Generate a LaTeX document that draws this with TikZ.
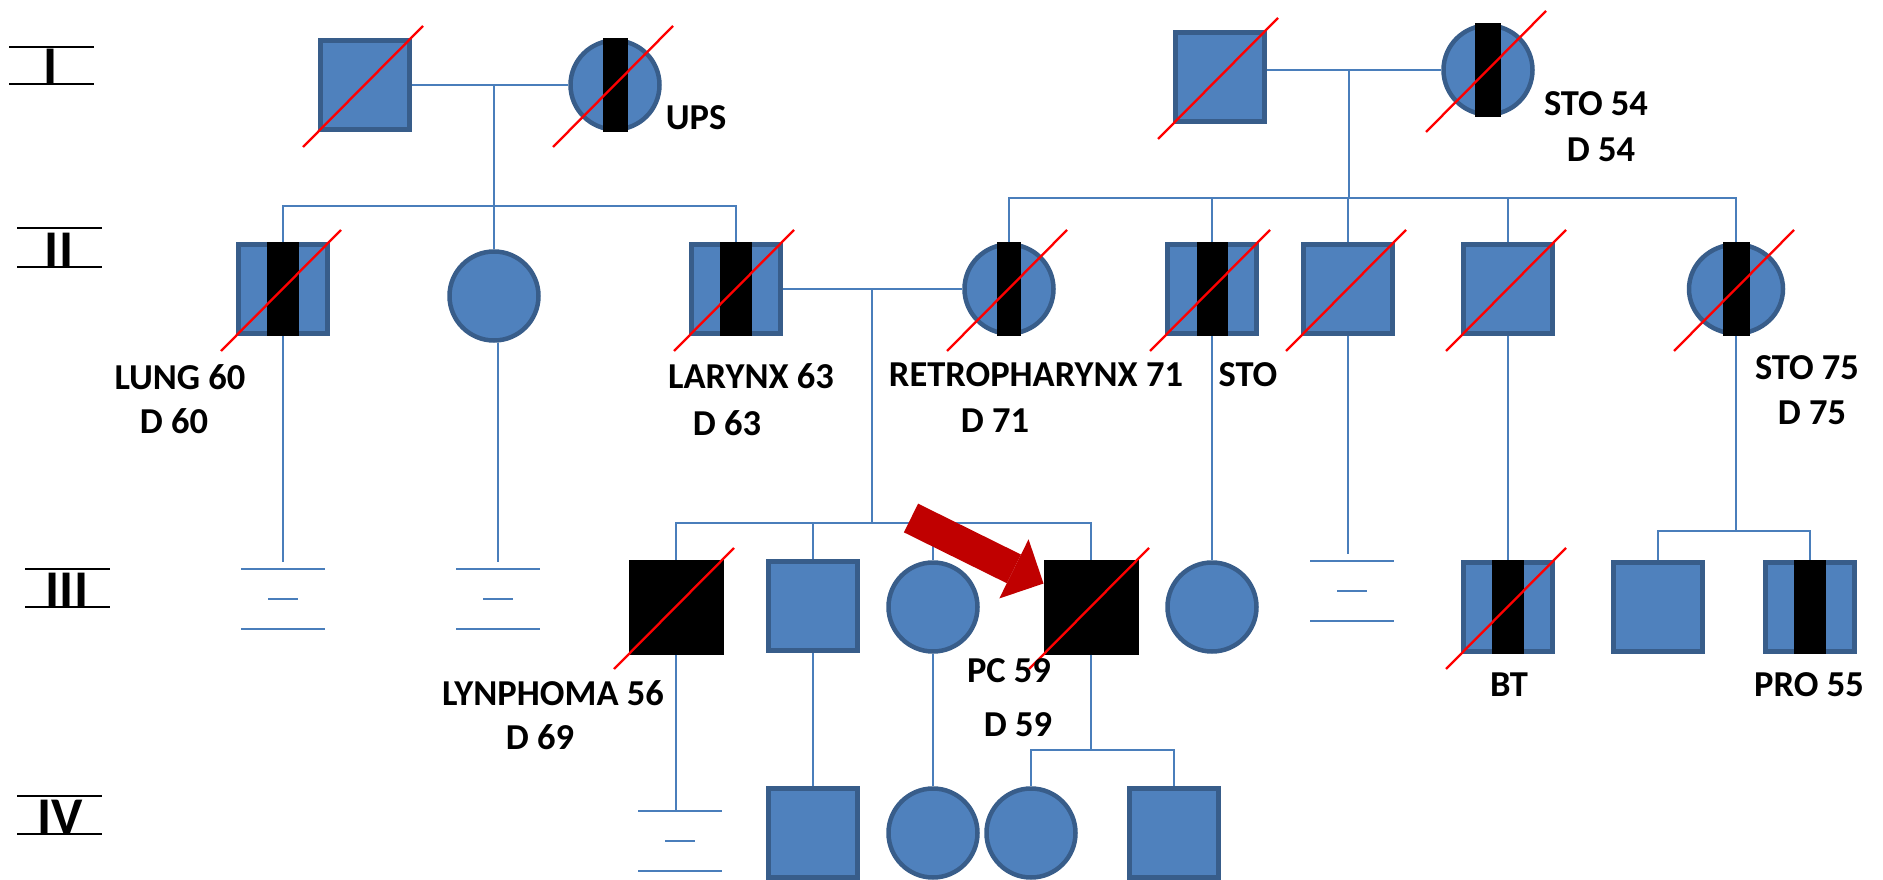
\documentclass[tikz,border=0pt]{standalone}
\usepackage{fontspec}
\setmainfont{Carlito}
\usetikzlibrary{arrows.meta,positioning,shapes.geometric}
\definecolor{pedblue}{HTML}{4F81BD}
\definecolor{pededge}{HTML}{385D8A}
\definecolor{linkblue}{HTML}{4A7EBB}
\definecolor{pointred}{HTML}{C00000}

\begin{document}
\begin{tikzpicture}[
x=1pt,y=-1pt,
every node/.style={font=\fontsize{36.5}{40}\selectfont\bfseries,align=center,inner sep=0pt},
male/.style={rectangle,draw=pededge,fill=pedblue,line width=4.5pt,minimum size=89pt},
female/.style={ellipse,draw=pededge,fill=pedblue,line width=4.5pt,minimum width=89pt,minimum height=89pt},
affected/.style={draw=black,fill=black,line width=1pt,minimum size=94pt},
link/.style={draw=linkblue,line width=2.2pt},
slash/.style={draw=red,line width=2.3pt},
genbar/.style={draw=black,line width=2.5pt},
gen/.style={font=\fontsize{53}{60}\selectfont\bfseries},
pointer/.style={-{Triangle[length=33pt,width=66pt,line width=0pt]},line width=32pt,draw=pointred}
]
\useasboundingbox (0,0) rectangle (1883,880);

% generations
\node[gen,anchor=base] (g1) at (51,84) {I};
\node[gen,anchor=base] (g2) at (59,267) {II};
\node[gen,anchor=base] (g3) at (67,607) {III};
\node[gen,anchor=base] (g4) at (60,834) {IV};
\draw[genbar] (9,47) -- (94,47) (9,84) -- (94,84);
\draw[genbar] (17,228) -- (102,228) (17,267) -- (102,267);
\draw[genbar] (25,569) -- (110,569) (25,607) -- (110,607);
\draw[genbar] (17,796) -- (102,796) (17,834) -- (102,834);

% generation I
\node[male] (s1) at (365,85) {};
\node[female] (o1) at (615,85) {};
\node[male] (s2) at (1220,77) {};
\node[female] (o2) at (1488,70) {};

% generation II
\node[male] (s21) at (283,289) {};
\node[female] (o22) at (494,296) {};
\node[male] (s23) at (736,289) {};
\node[female] (o24) at (1009,289) {};
\node[male] (s25) at (1212,289) {};
\node[male] (s26) at (1348,289) {};
\node[male] (s27) at (1508,289) {};
\node[female,minimum width=94pt] (o28) at (1736,289) {};

% generation III
\node[male,affected] (s31) at (676,607) {};
\node[male] (s32) at (813,606) {};
\node[female] (o33) at (933,607) {};
\node[male,affected] (s34) at (1091,607) {};
\node[female] (o35) at (1212,607) {};
\node[male] (s36) at (1508,607) {};
\node[male] (s37) at (1658,607) {};
\node[male] (s38) at (1810,607) {};

% generation IV
\node[male] (s41) at (813,833) {};
\node[female] (o42) at (933,833) {};
\node[female] (o43) at (1031,833) {};
\node[male] (s44) at (1174,833) {};

% affected bars and deceased slashes
\foreach \n/\w in {o1/12.5pt,o2/13pt,s21/16pt,s23/16pt,o24/12pt,s25/15.5pt,o28/13.5pt,s36/16pt,s38/16pt}
  \fill[black] ([xshift=-\w]\n.north) rectangle ([xshift=\w]\n.south);
\foreach \n in {s1,o1,s2,o2,s21,s23,o24,s25,s26,s27,o28,s31,s34,s36}
  \draw[slash] ([shift={(-62,62)}]\n.center) -- ([shift={(58,-59)}]\n.center);

% couples and sibships
\coordinate (m1) at (494,85);
\coordinate (sib1) at (494,206);
\draw[link] (s1) -- (o1);
\draw[link] (m1) -- (o22.north);
\draw[link] (s21.north) |- (sib1) -| (s23.north);

\coordinate (m2) at (1349,70);
\coordinate (sib2) at (1349,198);
\draw[link] (s2.east |- o2) -- (o2);
\draw[link] (m2) -- (sib2);
\draw[link] (o24.north) |- (sib2) -| (o28.north);
\foreach \n in {s25,s26,s27} \draw[link] (\n.north |- sib2) -- (\n.north);

\coordinate (m3) at (872,289);
\coordinate (sib3) at (872,523);
\draw[link] (s23) -- (o24);
\draw[link] (m3) -- (sib3);
\draw[link] (s31.north) |- (sib3) -| (s34.north);
\foreach \n in {s32,o33} \draw[link] (\n.north |- sib3) -- (\n.north);

\coordinate (sib4) at (1736,531);
\draw[link] (o28.south) -- (sib4);
\draw[link] (s37.north) |- (sib4) -| (s38.north);

\coordinate (sib5) at (1091,750);
\draw[link] (s34.south) -- (sib5);
\draw[link] (o43.north) |- (sib5) -| (s44.north);

\draw[link] (s25.south) -- (o35.north);
\draw[link] (s27.south) -- (s36.north);
\draw[link] (s32.south) -- (s41.north);
\draw[link] (o33.south) -- (o42.north);

% no offspring
\coordinate (n1) at (283,569);
\coordinate (n2) at (498,569);
\coordinate (n3) at (1352,561);
\coordinate (n4) at (680,811);
\draw[link,shorten >=7pt] (s21.south) -- (n1);
\draw[link,shorten >=7pt] (o22.south -| n2) -- (n2);
\draw[link,shorten >=7pt] (s26.south) -- (s26.south |- n3);
\draw[link] (s31.south) -- (s31.south |- n4);
\foreach \c in {n1,n2,n3,n4}{
  \draw[link] ([xshift=-42pt]\c) -- ([xshift=42pt]\c);
  \draw[link] ([shift={(-15,30)}]\c) -- ([shift={(15,30)}]\c);
  \draw[link] ([shift={(-42,60)}]\c) -- ([shift={(42,60)}]\c);
}

% labels
\node (lups) at (696,118) {UPS};
\node (lsto54) at (1596,104) {STO 54};
\node (ld54) at (1601,150) {D 54};
\node (llung) at (180,377) {LUNG 60};
\node (ld60) at (174,421) {D 60};
\node (llar) at (751,376) {LARYNX 63};
\node (ld63) at (727,423) {D 63};
\node (lretro) at (1036,375) {RETROPHARYNX 71};
\node (ld71) at (995,421) {D 71};
\node (lsto) at (1248,375) {STO};
\node (lsto75) at (1807,368) {STO 75};
\node (ld75) at (1812,413) {D 75};
\node (llyn) at (553,693) {LYNPHOMA 56};
\node (ld69) at (540,737) {D 69};
\node (lpc) at (1009,671) {PC 59};
\node (ld59) at (1018,725) {D 59};
\node (lbt) at (1509,685) {BT};
\node (lpro) at (1809,685) {PRO 55};

% proband
\coordinate (ptr) at (911,518);
\draw[pointer] (ptr) -- (s34);
\end{tikzpicture}
\end{document}
